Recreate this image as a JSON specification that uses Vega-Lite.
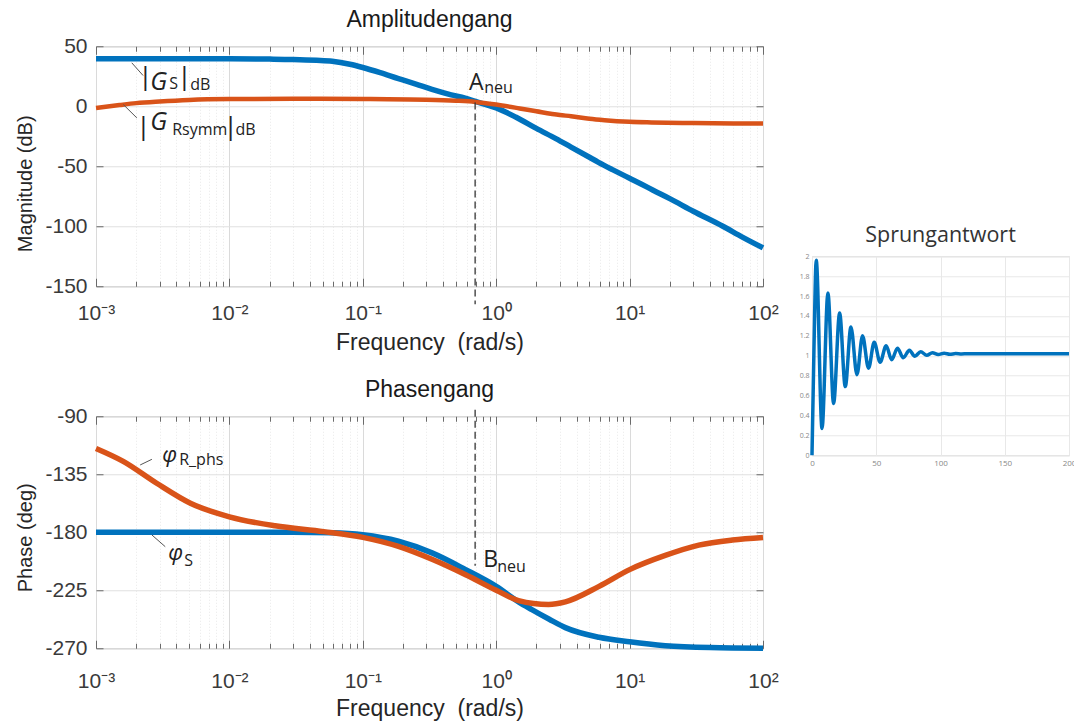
{
"$schema": "https://vega.github.io/schema/vega-lite/v6.json",
"background": "white",
"padding": {"left": 15, "top": 8, "right": 0, "bottom": 0},
"config": {
  "view": {"stroke": "#a8a8a8", "strokeWidth": 1},
  "axis": {"labelFont": "Liberation Sans", "titleFont": "Liberation Sans", "labelColor": "#3a3a3a", "titleColor": "#262626", "titleFontWeight": "normal", "labelFontSize": 21, "titleFontSize": 21, "domain": false, "tickColor": "#6a6a6a", "tickWidth": 1, "gridColor": "#e0e0e0", "gridWidth": 1, "gridOpacity": 1},
  "title": {"font": "Liberation Sans", "fontSize": 23, "fontWeight": "normal", "color": "#1a1a1a"}
},
"datasets": {
  "mag": [
    {"s":"GS","f":0.001,"v":39.5},{"s":"GS","f":0.003,"v":39.5},{"s":"GS","f":0.01,"v":39.5},{"s":"GS","f":0.02,"v":39.3},{"s":"GS","f":0.03,"v":39},{"s":"GS","f":0.045,"v":38.3},{"s":"GS","f":0.059,"v":37.5},{"s":"GS","f":0.08,"v":35},{"s":"GS","f":0.1,"v":32.3},{"s":"GS","f":0.135,"v":28},{"s":"GS","f":0.185,"v":23},{"s":"GS","f":0.25,"v":18.5},{"s":"GS","f":0.33,"v":14},{"s":"GS","f":0.46,"v":9.5},{"s":"GS","f":0.585,"v":6.8},{"s":"GS","f":0.7,"v":4},{"s":"GS","f":0.85,"v":1.2},{"s":"GS","f":1,"v":-1.4},{"s":"GS","f":1.4,"v":-9},{"s":"GS","f":2,"v":-18.5},{"s":"GS","f":2.8,"v":-27},{"s":"GS","f":3.64,"v":-34},{"s":"GS","f":5,"v":-42.5},{"s":"GS","f":5.8,"v":-46.5},{"s":"GS","f":7.5,"v":-53},{"s":"GS","f":10,"v":-60},{"s":"GS","f":12.3,"v":-65},{"s":"GS","f":15,"v":-70},{"s":"GS","f":20,"v":-77},{"s":"GS","f":30,"v":-87.5},{"s":"GS","f":50,"v":-100},{"s":"GS","f":70,"v":-109},{"s":"GS","f":100,"v":-118},
    {"s":"GR","f":0.001,"v":-1.5},{"s":"GR","f":0.0015,"v":1},{"s":"GR","f":0.002,"v":2.6},{"s":"GR","f":0.003,"v":4},{"s":"GR","f":0.005,"v":5.3},{"s":"GR","f":0.01,"v":6},{"s":"GR","f":0.03,"v":6.2},{"s":"GR","f":0.1,"v":6},{"s":"GR","f":0.3,"v":5.4},{"s":"GR","f":0.5,"v":4.6},{"s":"GR","f":0.7,"v":3.6},{"s":"GR","f":1,"v":1.4},{"s":"GR","f":1.5,"v":-1.8},{"s":"GR","f":2,"v":-4.2},{"s":"GR","f":3,"v":-7.3},{"s":"GR","f":3.64,"v":-8.3},{"s":"GR","f":5,"v":-10.5},{"s":"GR","f":6.5,"v":-11.7},{"s":"GR","f":10,"v":-13},{"s":"GR","f":14.6,"v":-13.5},{"s":"GR","f":30,"v":-14},{"s":"GR","f":60,"v":-14.3},{"s":"GR","f":100,"v":-14.4}
  ],
  "phase": [
    {"s":"PS","f":0.001,"v":-180},{"s":"PS","f":0.01,"v":-180},{"s":"PS","f":0.03,"v":-180},{"s":"PS","f":0.059,"v":-180.4},{"s":"PS","f":0.1,"v":-182},{"s":"PS","f":0.185,"v":-187},{"s":"PS","f":0.33,"v":-196},{"s":"PS","f":0.59,"v":-209},{"s":"PS","f":1,"v":-222},{"s":"PS","f":1.47,"v":-234},{"s":"PS","f":1.85,"v":-240},{"s":"PS","f":2.5,"v":-247.5},{"s":"PS","f":3.3,"v":-254},{"s":"PS","f":5.9,"v":-261.5},{"s":"PS","f":10,"v":-265},{"s":"PS","f":18.5,"v":-268},{"s":"PS","f":40,"v":-269.5},{"s":"PS","f":100,"v":-270},
    {"s":"PR","f":0.001,"v":-115},{"s":"PR","f":0.0016,"v":-125},{"s":"PR","f":0.00285,"v":-142},{"s":"PR","f":0.0051,"v":-157.5},{"s":"PR","f":0.01,"v":-168},{"s":"PR","f":0.022,"v":-175},{"s":"PR","f":0.051,"v":-179.5},{"s":"PR","f":0.1,"v":-184},{"s":"PR","f":0.185,"v":-191},{"s":"PR","f":0.33,"v":-201},{"s":"PR","f":0.59,"v":-213},{"s":"PR","f":1,"v":-225},{"s":"PR","f":1.47,"v":-233},{"s":"PR","f":2.47,"v":-236},{"s":"PR","f":3.3,"v":-234},{"s":"PR","f":5.9,"v":-222},{"s":"PR","f":10,"v":-209},{"s":"PR","f":18.5,"v":-198},{"s":"PR","f":33,"v":-190},{"s":"PR","f":59,"v":-186},{"s":"PR","f":100,"v":-184}
  ],
  "step": [
    {"t":0,"y":0},{"t":1.5,"y":1.05},{"t":3.3,"y":1.96},{"t":7.8,"y":0.27},{"t":12.4,"y":1.63},{"t":16.8,"y":0.52},{"t":21.5,"y":1.43},{"t":25.9,"y":0.69},{"t":30.3,"y":1.29},{"t":35,"y":0.81},{"t":39.3,"y":1.2},{"t":44,"y":0.875},{"t":48.4,"y":1.135},{"t":53,"y":0.935},{"t":57.7,"y":1.1},{"t":62,"y":0.96},{"t":66.5,"y":1.075},{"t":71,"y":0.98},{"t":75.8,"y":1.055},{"t":80,"y":0.995},{"t":84.6,"y":1.04},{"t":89.3,"y":1.005},{"t":93.7,"y":1.03},{"t":98.2,"y":1.012},{"t":102.8,"y":1.025},{"t":107.3,"y":1.015},{"t":111.8,"y":1.022},{"t":116.4,"y":1.018},{"t":121,"y":1.02},{"t":200,"y":1.02}
  ],
  "dashTop": [{"f":0.695,"v":3.2,"v2":-165}],
  "dashBot": [{"f":0.695,"v":-85,"v2":-206}],
  "leadTop": [{"f":0.001854,"v":36.2,"f2":0.002254,"v2":25.6},{"f":0.001603,"v":1.4,"f2":0.002023,"v2":-9.7}],
  "leadBot": [{"f":0.002143,"v":-127.8,"f2":0.002624,"v2":-123.4},{"f":0.002624,"v":-182.1,"f2":0.003304,"v2":-191.2}],
  "annTop": [
    {"f":0.00207,"v":24.6,"t":"|","k":"bar"},{"f":0.002547,"v":13.9,"t":"G","k":"ital"},{"f":0.00354,"v":14.2,"t":"S","k":"small"},{"f":0.004064,"v":24.6,"t":"|","k":"bar"},{"f":0.005093,"v":13.3,"t":"dB","k":"small"},
    {"f":0.0020,"v":-17.3,"t":"|","k":"bar"},{"f":0.002547,"v":-20,"t":"G","k":"ital"},{"f":0.003724,"v":-24,"t":"Rsymm","k":"small"},{"f":0.009014,"v":-17.3,"t":"|","k":"bar"},{"f":0.01109,"v":-24,"t":"dB","k":"small"},
    {"f":0.6266,"v":13.9,"t":"A","k":"big"},{"f":0.8124,"v":11.4,"t":"neu","k":"small"}
  ],
  "annBot": [
    {"f":0.003133,"v":-125.4,"t":"φ","k":"ital"},{"f":0.004207,"v":-127.8,"t":"R_phs","k":"small"},
    {"f":0.003474,"v":-201.5,"t":"φ","k":"ital"},{"f":0.004594,"v":-206.1,"t":"S","k":"small"},
    {"f":0.798,"v":-206.7,"t":"B","k":"big"},{"f":1.017,"v":-210.6,"t":"neu","k":"small"}
  ]
},
"hconcat": [
  {"vconcat": [
    {
      "width": 667, "height": 240,
      "title": {"text": "Amplitudengang", "offset": 3},
      "resolve": {"axis": {"x": "independent", "y": "independent"}},
      "layer": [
        {"data": {"name": "mag"}, "transform": [{"filter": "datum.s == 'GS'"}],
         "mark": {"type": "line", "color": "#0072BD", "strokeWidth": 5.5, "interpolate": "monotone"},
         "encoding": {
           "x": {"field": "f", "type": "quantitative", "scale": {"type": "log", "domain": [0.001, 100], "nice": false},
                 "axis": {"title": "Frequency\u00a0 (rad/s)", "titleFontSize": 23, "values": [0.001,0.002,0.003,0.004,0.005,0.006,0.007,0.008,0.009,0.01,0.02,0.03,0.04,0.05,0.06,0.07,0.08,0.09,0.1,0.2,0.3,0.4,0.5,0.6,0.7,0.8,0.9,1,2,3,4,5,6,7,8,9,10,20,30,40,50,60,70,80,90,100],
                          "labelExpr": "datum.value == 0.001 ? '10\u207b\u00b3' : datum.value == 0.01 ? '10\u207b\u00b2' : datum.value == 0.1 ? '10\u207b\u00b9' : datum.value == 1 ? '10\u2070' : datum.value == 10 ? '10\u00b9' : datum.value == 100 ? '10\u00b2' : ''",
                          "labelOverlap": false, "labelFlush": false, "labelBound": false,
                          "grid": true,
                          "gridColor": {"condition": {"test": "indexof([0.001,0.01,0.1,1,10,100], datum.value) >= 0", "value": "#dadada"}, "value": "#e8e8e8"},
                          "gridDash": {"condition": {"test": "indexof([0.001,0.01,0.1,1,10,100], datum.value) >= 0", "value": []}, "value": [1, 2]},
                          "tickSize": {"condition": {"test": "indexof([0.001,0.01,0.1,1,10,100], datum.value) >= 0", "value": -8}, "value": -5},
                          "labelPadding": 24, "titlePadding": 5}},
           "y": {"field": "v", "type": "quantitative", "scale": {"domain": [-150, 50], "nice": false},
                 "axis": {"title": "Magnitude (dB)", "titleFontSize": 20, "titleY": 137, "values": [-150, -100, -50, 0, 50], "labelExpr": "replace(datum.label, '\u2212', '-')", "grid": true, "tickSize": -7, "labelPadding": 16, "titlePadding": 9}}
         }},
        {"data": {"name": "mag"}, "transform": [{"filter": "datum.s == 'GR'"}],
         "mark": {"type": "line", "color": "#D95319", "strokeWidth": 4.5, "interpolate": "monotone"},
         "encoding": {
           "x": {"field": "f", "type": "quantitative",
                 "axis": {"orient": "top", "title": null, "labels": false, "grid": false, "values": [0.001,0.002,0.003,0.004,0.005,0.006,0.007,0.008,0.009,0.01,0.02,0.03,0.04,0.05,0.06,0.07,0.08,0.09,0.1,0.2,0.3,0.4,0.5,0.6,0.7,0.8,0.9,1,2,3,4,5,6,7,8,9,10,20,30,40,50,60,70,80,90,100],
                          "tickSize": {"condition": {"test": "indexof([0.001,0.01,0.1,1,10,100], datum.value) >= 0", "value": -8}, "value": -5}}},
           "y": {"field": "v", "type": "quantitative", "axis": {"orient": "right", "title": null, "labels": false, "grid": false, "values": [-150, -100, -50, 0, 50], "tickSize": -7}}
         }},
        {"data": {"name": "dashTop"},
         "mark": {"type": "rule", "strokeDash": [7, 4], "color": "#333333", "strokeWidth": 1.3, "clip": false},
         "encoding": {"x": {"field": "f", "type": "quantitative", "axis": null}, "y": {"field": "v", "type": "quantitative", "axis": null}, "y2": {"field": "v2"}}},
        {"data": {"name": "leadTop"},
         "mark": {"type": "rule", "color": "#555555", "strokeWidth": 1},
         "encoding": {"x": {"field": "f", "type": "quantitative", "axis": null}, "y": {"field": "v", "type": "quantitative", "axis": null}, "x2": {"field": "f2"}, "y2": {"field": "v2"}}},
        {"data": {"name": "annTop"}, "transform": [{"filter": "datum.k == 'bar'"}],
         "mark": {"type": "text", "font": "Open Sans", "fontSize": 26, "align": "left", "baseline": "middle", "color": "#222222"},
         "encoding": {"x": {"field": "f", "type": "quantitative", "axis": null}, "y": {"field": "v", "type": "quantitative", "axis": null}, "text": {"field": "t"}}},
        {"data": {"name": "annTop"}, "transform": [{"filter": "datum.k == 'ital'"}],
         "mark": {"type": "text", "font": "Open Sans", "fontSize": 25, "fontStyle": "italic", "align": "left", "baseline": "alphabetic", "color": "#222222"},
         "encoding": {"x": {"field": "f", "type": "quantitative", "axis": null}, "y": {"field": "v", "type": "quantitative", "axis": null}, "text": {"field": "t"}}},
        {"data": {"name": "annTop"}, "transform": [{"filter": "datum.k == 'small'"}],
         "mark": {"type": "text", "font": "Open Sans", "fontSize": 16, "align": "left", "baseline": "alphabetic", "color": "#222222"},
         "encoding": {"x": {"field": "f", "type": "quantitative", "axis": null}, "y": {"field": "v", "type": "quantitative", "axis": null}, "text": {"field": "t"}}},
        {"data": {"name": "annTop"}, "transform": [{"filter": "datum.k == 'big'"}],
         "mark": {"type": "text", "font": "Open Sans", "fontSize": 23, "align": "left", "baseline": "alphabetic", "color": "#222222"},
         "encoding": {"x": {"field": "f", "type": "quantitative", "axis": null}, "y": {"field": "v", "type": "quantitative", "axis": null}, "text": {"field": "t"}}}
      ]
    },
    {
      "width": 667, "height": 232,
      "title": {"text": "Phasengang", "offset": 3},
      "resolve": {"axis": {"x": "independent", "y": "independent"}},
      "layer": [
        {"data": {"name": "phase"}, "transform": [{"filter": "datum.s == 'PS'"}],
         "mark": {"type": "line", "color": "#0072BD", "strokeWidth": 5.5, "interpolate": "monotone"},
         "encoding": {
           "x": {"field": "f", "type": "quantitative", "scale": {"type": "log", "domain": [0.001, 100], "nice": false},
                 "axis": {"title": "Frequency\u00a0 (rad/s)", "titleFontSize": 23, "values": [0.001,0.002,0.003,0.004,0.005,0.006,0.007,0.008,0.009,0.01,0.02,0.03,0.04,0.05,0.06,0.07,0.08,0.09,0.1,0.2,0.3,0.4,0.5,0.6,0.7,0.8,0.9,1,2,3,4,5,6,7,8,9,10,20,30,40,50,60,70,80,90,100],
                          "labelExpr": "datum.value == 0.001 ? '10\u207b\u00b3' : datum.value == 0.01 ? '10\u207b\u00b2' : datum.value == 0.1 ? '10\u207b\u00b9' : datum.value == 1 ? '10\u2070' : datum.value == 10 ? '10\u00b9' : datum.value == 100 ? '10\u00b2' : ''",
                          "labelOverlap": false, "labelFlush": false, "labelBound": false,
                          "grid": true,
                          "gridColor": {"condition": {"test": "indexof([0.001,0.01,0.1,1,10,100], datum.value) >= 0", "value": "#dadada"}, "value": "#e8e8e8"},
                          "gridDash": {"condition": {"test": "indexof([0.001,0.01,0.1,1,10,100], datum.value) >= 0", "value": []}, "value": [1, 2]},
                          "tickSize": {"condition": {"test": "indexof([0.001,0.01,0.1,1,10,100], datum.value) >= 0", "value": -8}, "value": -5},
                          "labelPadding": 30, "titlePadding": 3}},
           "y": {"field": "v", "type": "quantitative", "scale": {"domain": [-270, -90], "nice": false},
                 "axis": {"title": "Phase (deg)", "titleFontSize": 20, "titleY": 121, "values": [-270, -225, -180, -135, -90], "labelExpr": "replace(datum.label, '\u2212', '-')", "grid": true, "tickSize": -7, "labelPadding": 16, "titlePadding": 9}}
         }},
        {"data": {"name": "phase"}, "transform": [{"filter": "datum.s == 'PR'"}],
         "mark": {"type": "line", "color": "#D95319", "strokeWidth": 5.5, "interpolate": "monotone"},
         "encoding": {
           "x": {"field": "f", "type": "quantitative",
                 "axis": {"orient": "top", "title": null, "labels": false, "grid": false, "values": [0.001,0.002,0.003,0.004,0.005,0.006,0.007,0.008,0.009,0.01,0.02,0.03,0.04,0.05,0.06,0.07,0.08,0.09,0.1,0.2,0.3,0.4,0.5,0.6,0.7,0.8,0.9,1,2,3,4,5,6,7,8,9,10,20,30,40,50,60,70,80,90,100],
                          "tickSize": {"condition": {"test": "indexof([0.001,0.01,0.1,1,10,100], datum.value) >= 0", "value": -8}, "value": -5}}},
           "y": {"field": "v", "type": "quantitative", "axis": {"orient": "right", "title": null, "labels": false, "grid": false, "values": [-270, -225, -180, -135, -90], "tickSize": -7}}
         }},
        {"data": {"name": "dashBot"},
         "mark": {"type": "rule", "strokeDash": [7, 4], "color": "#333333", "strokeWidth": 1.3, "clip": false},
         "encoding": {"x": {"field": "f", "type": "quantitative", "axis": null}, "y": {"field": "v", "type": "quantitative", "axis": null}, "y2": {"field": "v2"}}},
        {"data": {"name": "leadBot"},
         "mark": {"type": "rule", "color": "#555555", "strokeWidth": 1},
         "encoding": {"x": {"field": "f", "type": "quantitative", "axis": null}, "y": {"field": "v", "type": "quantitative", "axis": null}, "x2": {"field": "f2"}, "y2": {"field": "v2"}}},
        {"data": {"name": "annBot"}, "transform": [{"filter": "datum.k == 'ital'"}],
         "mark": {"type": "text", "font": "Open Sans", "fontSize": 22, "fontStyle": "italic", "align": "left", "baseline": "alphabetic", "color": "#222222"},
         "encoding": {"x": {"field": "f", "type": "quantitative", "axis": null}, "y": {"field": "v", "type": "quantitative", "axis": null}, "text": {"field": "t"}}},
        {"data": {"name": "annBot"}, "transform": [{"filter": "datum.k == 'small'"}],
         "mark": {"type": "text", "font": "Open Sans", "fontSize": 16, "align": "left", "baseline": "alphabetic", "color": "#222222"},
         "encoding": {"x": {"field": "f", "type": "quantitative", "axis": null}, "y": {"field": "v", "type": "quantitative", "axis": null}, "text": {"field": "t"}}},
        {"data": {"name": "annBot"}, "transform": [{"filter": "datum.k == 'big'"}],
         "mark": {"type": "text", "font": "Open Sans", "fontSize": 23, "align": "left", "baseline": "alphabetic", "color": "#222222"},
         "encoding": {"x": {"field": "f", "type": "quantitative", "axis": null}, "y": {"field": "v", "type": "quantitative", "axis": null}, "text": {"field": "t"}}}
      ]
    }
  ], "spacing": 23},
  {
    "width": 257, "height": 199,
    "title": {"text": "Sprungantwort", "font": "Open Sans", "fontSize": 21.5, "color": "#333333", "offset": 6},
    "view": {"stroke": "#cfcfcf"},
    "data": {"name": "step"},
    "mark": {"type": "line", "color": "#0072BD", "strokeWidth": 3.5, "interpolate": "monotone"},
    "encoding": {
      "x": {"field": "t", "type": "quantitative", "scale": {"domain": [0, 200], "nice": false},
            "axis": {"values": [0, 50, 100, 150, 200], "title": "\u00a0", "titleFontSize": 10, "titlePadding": 33, "labelFont": "Open Sans", "labelFontSize": 8, "labelColor": "#888888", "ticks": false, "labelPadding": 4, "gridColor": "#e8e8e8", "labelFlush": false}},
      "y": {"field": "y", "type": "quantitative", "scale": {"domain": [0, 2], "nice": false},
            "axis": {"values": [0, 0.2, 0.4, 0.6, 0.8, 1, 1.2, 1.4, 1.6, 1.8, 2], "format": "~g", "title": null, "labelFont": "Open Sans", "labelFontSize": 7, "labelColor": "#888888", "ticks": false, "labelPadding": 3, "gridColor": "#e8e8e8"}}
    }
  }
],
"spacing": 19,
"center": true
}
